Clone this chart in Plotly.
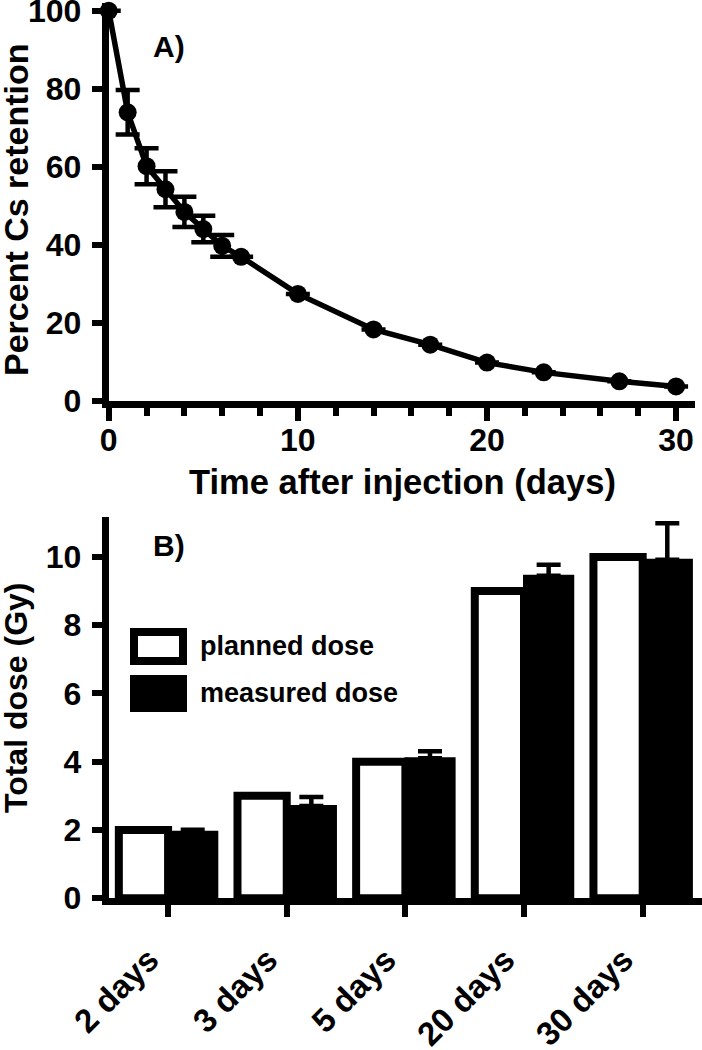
import plotly.graph_objects as go

# ---------------- Data ----------------
# Panel A: Cs retention over time
days = [0, 1, 2, 3, 4, 5, 6, 7, 10, 14, 17, 20, 23, 27, 30]
retention = [100, 74, 60.2, 54.3, 48.5, 44.1, 39.8, 37, 27.5, 18.4, 14.5, 9.9, 7.4, 5.1, 3.8]
retention_err = [None, 5.7, 4.6, 4.6, 3.9, 3.4, 2.8, None, None, None, None, None, None, None, None]

# Panel B: planned vs measured dose
categories = ["2 days", "3 days", "5 days", "20 days", "30 days"]
planned = [2, 3, 4, 9, 10]
measured = [1.95, 2.7, 4.1, 9.45, 9.92]
measured_err = [0.06, 0.27, 0.21, 0.32, 1.07]

W, H = 702, 1050
FONT = "Liberation Sans, Arial, sans-serif"


def px(x):
    return x / W


def py(y):
    return 1 - y / H


fig = go.Figure()

fig.add_trace(go.Scatter(
    x=days, y=retention, mode="lines+markers",
    line=dict(color="black", width=5.5),
    marker=dict(color="black", size=18),
    error_y=dict(type="data", array=retention_err, visible=True,
                 color="black", thickness=4.5, width=12),
    cliponaxis=False, showlegend=False,
    xaxis="x", yaxis="y",
))

fig.add_trace(go.Bar(
    x=categories, y=planned, name="planned dose",
    marker=dict(color="white", line=dict(color="black", width=8)),
    showlegend=False, xaxis="x2", yaxis="y2",
))
fig.add_trace(go.Bar(
    x=categories, y=measured, name="measured dose",
    marker=dict(color="black", line=dict(color="black", width=2)),
    error_y=dict(type="data", array=measured_err, symmetric=False,
                 arrayminus=[0] * len(measured_err), visible=True,
                 color="black", thickness=4.5, width=12),
    showlegend=False, xaxis="x2", yaxis="y2",
))

TICKFONT = dict(family=FONT, size=32, color="black", weight="bold")
axis_common = dict(showline=True, linecolor="black", linewidth=7,
                   showgrid=False, zeroline=False, ticks="outside",
                   tickcolor="black", automargin=False,
                   ticklabeloverflow="allow", tickfont=TICKFONT)

XL = 108.75  # left edge of plot areas (px)
YSUFFIX = "\u2009\u2009"

fig.update_layout(
    width=W, height=H,
    margin=dict(l=0, r=0, t=0, b=0),
    paper_bgcolor="white", plot_bgcolor="white",
    barmode="group", bargap=0.17, bargroupgap=0,
    xaxis=dict(domain=[px(XL), px(695)], range=[0, 31], tickvals=[0, 10, 20, 30],
               ticklen=13, tickwidth=6, anchor="y",
               minor=dict(tickvals=[2, 4, 6, 8, 12, 14, 16, 18, 22, 24, 26, 28],
                          ticks="outside", ticklen=8, tickwidth=6, tickcolor="black"),
               ticklabelstandoff=-9,
               **axis_common),
    yaxis=dict(domain=[py(401.25), py(3)], range=[0, 102], tickvals=[0, 20, 40, 60, 80, 100],
               ticklen=10, tickwidth=6, anchor="x", ticklabelstandoff=4, ticksuffix=YSUFFIX,
               **axis_common),
    xaxis2=dict(domain=[px(XL), 1.0], range=[-0.5, 4.5], type="category",
                ticklen=12, tickwidth=6, anchor="y2", tickangle=-45,
                ticklabelstandoff=10, ticklabelshift=-19,
                **{**axis_common, "tickfont": dict(family=FONT, size=33, color="black", weight="bold")}),
    yaxis2=dict(domain=[py(898.25), py(517)], range=[0, 11.17], tickvals=[0, 2, 4, 6, 8, 10],
                ticklen=10, tickwidth=6, anchor="x2", ticklabelstandoff=4, ticksuffix=YSUFFIX,
                **axis_common),
)

annotations = [
    dict(text="Percent Cs retention", x=px(16), y=py(210), textangle=-90,
         font=dict(family=FONT, size=34, color="black", weight="bold")),
    dict(text="Time after injection (days)", x=px(402), y=py(482),
         font=dict(family=FONT, size=34.5, color="black", weight="bold")),
    dict(text="Total dose (Gy)", x=px(16), y=py(698), textangle=-90,
         font=dict(family=FONT, size=32, color="black", weight="bold")),
    dict(text="A)", x=px(169), y=py(46), font=dict(family=FONT, size=30, color="black", weight="bold")),
    dict(text="B)", x=px(169), y=py(545), font=dict(family=FONT, size=30, color="black", weight="bold")),
    dict(text="planned dose", x=px(198), y=py(646), xanchor="left",
         font=dict(family=FONT, size=27, color="black", weight="bold")),
    dict(text="measured dose", x=px(198), y=py(693), xanchor="left",
         font=dict(family=FONT, size=27, color="black", weight="bold")),
]
for a in annotations:
    a.update(xref="paper", yref="paper", showarrow=False)
    a.setdefault("xanchor", "center")
    a.setdefault("yanchor", "middle")
fig.update_layout(annotations=annotations)

fig.update_layout(shapes=[
    dict(type="rect", xref="paper", yref="paper",
         x0=px(134), x1=px(183), y0=py(632), y1=py(661),
         line=dict(color="black", width=8), fillcolor="white"),
    dict(type="rect", xref="paper", yref="paper",
         x0=px(130), x1=px(187), y0=py(675), y1=py(712),
         line=dict(color="black", width=0), fillcolor="black"),
])

fig.write_html("out.html", config={"displayModeBar": False},
               post_script="document.body.style.margin='0';")
